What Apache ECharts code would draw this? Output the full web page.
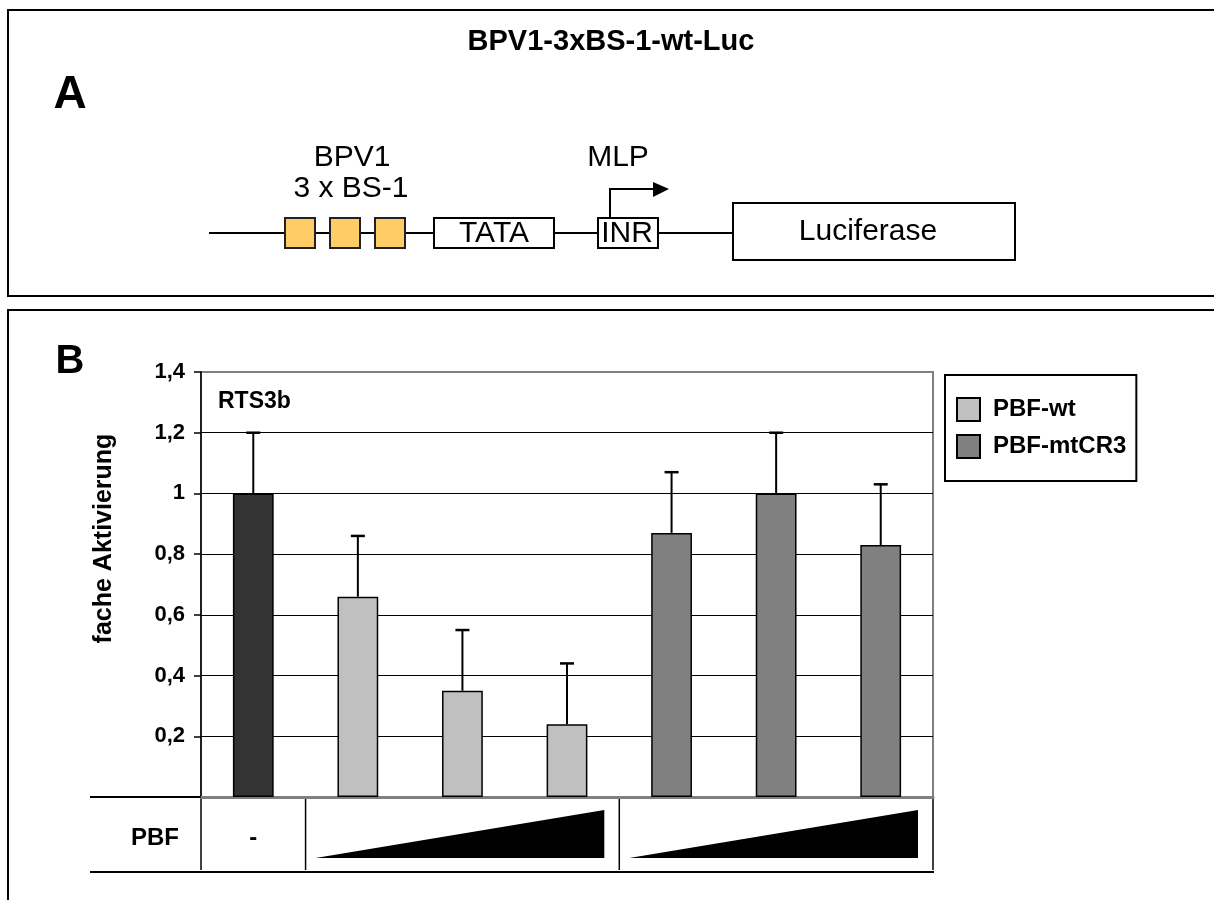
<!DOCTYPE html>
<html>
<head>
<meta charset="utf-8">
<title>BPV1-3xBS-1-wt-Luc</title>
<script src="https://cdn.jsdelivr.net/npm/echarts@6.0.0/dist/echarts.min.js"></script>
<style>
  html, body { margin: 0; padding: 0; background: #fff; }
  #chart { width: 1214px; height: 900px; }
</style>
</head>
<body>
<div id="chart"></div>
<script>
// data
const categories = ['-', 'wt 1', 'wt 2', 'wt 3', 'mtCR3 1', 'mtCR3 2', 'mtCR3 3']
const controlValues = [1.0, null, null, null, null, null, null]
const wtValues = [null, 0.66, 0.35, 0.24, null, null, null]
const mtValues = [null, null, null, null, 0.87, 1.0, 0.83]
const errorValues = [0.2, 0.2, 0.2, 0.2, 0.2, 0.2, 0.2]
const yMin = 0
const yMax = 1.4
const yStep = 0.2

const FONT = '"Liberation Sans", Arial, sans-serif'

const means = categories.map((c, i) => controlValues[i] ?? wtValues[i] ?? mtValues[i])
const errorData = categories.map((c, i) => [i, means[i], means[i] + errorValues[i]])

const chart = echarts.init(document.getElementById('chart'))

// schematic of the reporter construct (panel A) + panel frames
const schematic = [
  {type: 'rect', shape: {x: 8, y: 10, width: 1230, height: 286}, style: {fill: 'none', stroke: '#000', lineWidth: 2}},
  {type: 'rect', shape: {x: 8, y: 310, width: 1230, height: 620}, style: {fill: 'none', stroke: '#000', lineWidth: 2}},
  {type: 'text', style: {text: 'BPV1-3xBS-1-wt-Luc', x: 611, y: 42, font: 'bold 29px ' + FONT, align: 'center', verticalAlign: 'middle', fill: '#000'}},
  {type: 'text', style: {text: 'A', x: 70, y: 95, font: 'bold 46px ' + FONT, align: 'center', verticalAlign: 'middle', fill: '#000'}},
  {type: 'text', style: {text: 'B', x: 70, y: 362, font: 'bold 40px ' + FONT, align: 'center', verticalAlign: 'middle', fill: '#000'}},
  {type: 'line', shape: {x1: 209, y1: 233, x2: 733, y2: 233}, style: {stroke: '#000', lineWidth: 2}},
  {type: 'rect', shape: {x: 285, y: 218, width: 30, height: 30}, style: {fill: '#ffcc66', stroke: '#222', lineWidth: 2}},
  {type: 'rect', shape: {x: 330, y: 218, width: 30, height: 30}, style: {fill: '#ffcc66', stroke: '#222', lineWidth: 2}},
  {type: 'rect', shape: {x: 375, y: 218, width: 30, height: 30}, style: {fill: '#ffcc66', stroke: '#222', lineWidth: 2}},
  {type: 'rect', shape: {x: 434, y: 218, width: 120, height: 30}, style: {fill: '#fff', stroke: '#000', lineWidth: 2}},
  {type: 'text', style: {text: 'TATA', x: 494, y: 234, font: '30px ' + FONT, align: 'center', verticalAlign: 'middle', fill: '#000'}},
  {type: 'rect', shape: {x: 598, y: 218, width: 60, height: 30}, style: {fill: '#fff', stroke: '#000', lineWidth: 2}},
  {type: 'text', style: {text: 'INR', x: 627, y: 234, font: '30px ' + FONT, align: 'center', verticalAlign: 'middle', fill: '#000'}},
  {type: 'polyline', shape: {points: [[610, 218], [610, 189], [655, 189]]}, style: {fill: 'none', stroke: '#000', lineWidth: 2}},
  {type: 'polygon', shape: {points: [[653, 182], [669, 189], [653, 197]]}, style: {fill: '#000'}},
  {type: 'text', style: {text: 'MLP', x: 618, y: 158, font: '30px ' + FONT, align: 'center', verticalAlign: 'middle', fill: '#000'}},
  {type: 'text', style: {text: 'BPV1', x: 352, y: 158, font: '30px ' + FONT, align: 'center', verticalAlign: 'middle', fill: '#000'}},
  {type: 'text', style: {text: '3 x BS-1', x: 351, y: 189, font: '30px ' + FONT, align: 'center', verticalAlign: 'middle', fill: '#000'}},
  {type: 'rect', shape: {x: 733, y: 203, width: 282, height: 57}, style: {fill: '#fff', stroke: '#000', lineWidth: 2}},
  {type: 'text', style: {text: 'Luciferase', x: 868, y: 232, font: '30px ' + FONT, align: 'center', verticalAlign: 'middle', fill: '#000'}},
  {type: 'text', style: {text: 'RTS3b', x: 218, y: 402, font: 'bold 23px ' + FONT, align: 'left', verticalAlign: 'middle', fill: '#000'}}
]

const fmt = (v) => v === 0 ? '' : String(Number(v.toFixed(1))).replace('.', ',')

let option = {
  backgroundColor: '#fff',
  animation: false,
  textStyle: {fontFamily: FONT},
  grid: {
    left: 201,
    right: 281,
    top: 372,
    bottom: 103,
    outerBoundsMode: 'none',
    show: true,
    borderColor: '#808080',
    borderWidth: 2
  },
  legend: {
    data: ['PBF-wt', 'PBF-mtCR3'],
    orient: 'vertical',
    left: 945,
    top: 375,
    padding: [22, 10, 22, 11],
    itemWidth: 23,
    itemHeight: 23,
    itemGap: 12,
    borderColor: '#000',
    borderWidth: 2,
    icon: 'rect',
    textStyle: {
      fontSize: 24,
      fontWeight: 'bold',
      color: '#000',
      padding: [0, 0, 0, 8]
    }
  },
  xAxis: {
    type: 'category',
    data: categories,
    axisLine: {lineStyle: {color: '#808080', width: 3}},
    axisTick: {show: false},
    axisLabel: {show: false},
    splitLine: {show: false}
  },
  yAxis: {
    type: 'value',
    min: yMin,
    max: yMax,
    interval: yStep,
    name: 'fache Aktivierung',
    nameLocation: 'middle',
    nameRotate: 90,
    nameGap: 84,
    nameTextStyle: {fontSize: 25, fontWeight: 'bold', color: '#000', padding: [0, 0, 0, 92]},
    axisLine: {show: true, lineStyle: {color: '#000', width: 1.5}},
    axisTick: {show: true, inside: false, length: 7, lineStyle: {color: '#000', width: 1.5}},
    axisLabel: {
      fontSize: 22,
      fontWeight: 'bold',
      color: '#000',
      margin: 16,
      formatter: fmt
    },
    splitLine: {show: true, showMinLine: false, showMaxLine: false, lineStyle: {color: '#000', width: 1}}
  },
  series: [
    {
      name: 'Kontrolle',
      type: 'bar',
      data: controlValues,
      barWidth: '39%',
      barGap: '-100%',
      itemStyle: {color: '#333333', borderColor: '#000', borderWidth: 1.5}
    },
    {
      name: 'PBF-wt',
      type: 'bar',
      data: wtValues,
      barWidth: '39%',
      barGap: '-100%',
      itemStyle: {color: '#c0c0c0', borderColor: '#000', borderWidth: 1.5}
    },
    {
      name: 'PBF-mtCR3',
      type: 'bar',
      data: mtValues,
      barWidth: '39%',
      barGap: '-100%',
      itemStyle: {color: '#808080', borderColor: '#000', borderWidth: 1.5}
    },
    {
      name: 'Fehler',
      type: 'custom',
      data: errorData,
      z: 5,
      clip: false,
      encode: {x: 0, y: [1, 2]},
      renderItem: (params, api) => {
        const p0 = api.coord([api.value(0), api.value(1)])
        const p1 = api.coord([api.value(0), api.value(2)])
        const cap = 7
        return {
          type: 'group',
          children: [
            {type: 'line', shape: {x1: p0[0], y1: p0[1], x2: p1[0], y2: p1[1]}, style: {stroke: '#000', lineWidth: 2}},
            {type: 'line', shape: {x1: p1[0] - cap, y1: p1[1], x2: p1[0] + cap, y2: p1[1]}, style: {stroke: '#000', lineWidth: 2.5}}
          ]
        }
      }
    }
  ],
  graphic: schematic
}
chart.setOption(option)

// the PBF table under the plot follows the category bands
const c0 = chart.convertToPixel({xAxisIndex: 0}, 0)
const c1 = chart.convertToPixel({xAxisIndex: 0}, 1)
const band = c1 - c0
const edge = (i) => c0 + (i - 0.5) * band
const base = chart.convertToPixel({yAxisIndex: 0}, 0)
const rowH = 75

const table = [
  {type: 'line', shape: {x1: 90, y1: base, x2: edge(7) + 1, y2: base}, style: {stroke: '#000', lineWidth: 2}},
  {type: 'line', shape: {x1: 90, y1: base + rowH, x2: edge(7) + 1, y2: base + rowH}, style: {stroke: '#000', lineWidth: 2}},
  {type: 'text', style: {text: 'PBF', x: 155, y: base + 41, font: 'bold 24px ' + FONT, align: 'center', verticalAlign: 'middle', fill: '#000'}},
  {type: 'text', style: {text: '-', x: c0, y: base + 41, font: 'bold 24px ' + FONT, align: 'center', verticalAlign: 'middle', fill: '#000'}}
]
;[0, 1, 4, 7].forEach((i) => {
  table.push({type: 'line', shape: {x1: edge(i), y1: base, x2: edge(i), y2: base + rowH - 2}, style: {stroke: '#000', lineWidth: 1.5}})
})
;[[1, 4], [4, 7]].forEach(([a, b]) => {
  const xl = edge(a) + 10
  const xr = edge(b) - 15
  table.push({type: 'polygon', shape: {points: [[xl, base + 61], [xr, base + 13], [xr, base + 61]]}, style: {fill: '#000'}})
})

chart.setOption({graphic: schematic.concat(table)})
</script>
</body>
</html>
